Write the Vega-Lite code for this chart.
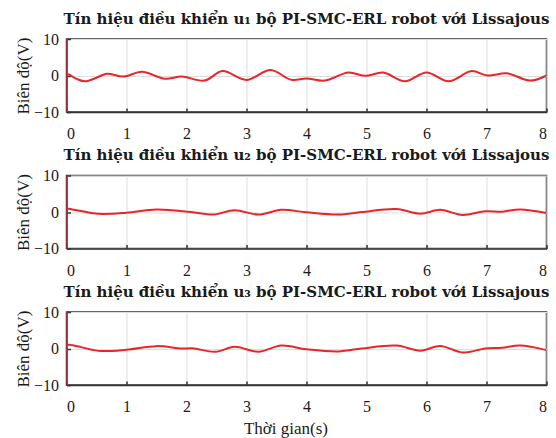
{
  "$schema": "https://vega.github.io/schema/vega-lite/v6.json",
  "background": "white",
  "padding": {"left": 13.5, "top": 10, "right": 2, "bottom": 2},
  "spacing": 3.5,
  "datasets": {
    "u1": [
      {"t": 0, "v": 10}, {"t": 0.004, "v": -10}, {"t": 0.012, "v": 0.3},
      {"t": 0.15, "v": -0.8}, {"t": 0.31, "v": -1.6}, {"t": 0.5, "v": -0.6},
      {"t": 0.67, "v": 0.5}, {"t": 0.95, "v": -0.3}, {"t": 1.26, "v": 1.0},
      {"t": 1.64, "v": -0.9}, {"t": 1.92, "v": -0.3}, {"t": 2.3, "v": -1.4},
      {"t": 2.6, "v": 1.2}, {"t": 3.0, "v": -1.2}, {"t": 3.4, "v": 1.5},
      {"t": 3.75, "v": -1.2}, {"t": 4.0, "v": -0.8}, {"t": 4.3, "v": -1.4},
      {"t": 4.7, "v": 0.8}, {"t": 4.98, "v": -0.1}, {"t": 5.28, "v": 0.8},
      {"t": 5.64, "v": -1.6}, {"t": 6.0, "v": 0.8}, {"t": 6.37, "v": -1.6},
      {"t": 6.75, "v": 1.2}, {"t": 7.02, "v": 0.0}, {"t": 7.34, "v": 0.6},
      {"t": 7.73, "v": -1.4}, {"t": 8.0, "v": 0.0}
    ],
    "u2": [
      {"t": 0, "v": 10}, {"t": 0.004, "v": -10}, {"t": 0.012, "v": 0.8},
      {"t": 0.1, "v": 0.7}, {"t": 0.53, "v": -0.5}, {"t": 1.0, "v": -0.2},
      {"t": 1.5, "v": 0.7}, {"t": 2.07, "v": 0.0}, {"t": 2.45, "v": -0.7},
      {"t": 2.8, "v": 0.5}, {"t": 3.2, "v": -0.7}, {"t": 3.58, "v": 0.6},
      {"t": 4.0, "v": -0.1}, {"t": 4.53, "v": -0.7}, {"t": 4.92, "v": 0.0},
      {"t": 5.5, "v": 0.8}, {"t": 5.9, "v": -0.45}, {"t": 6.23, "v": 0.6},
      {"t": 6.6, "v": -0.8}, {"t": 6.98, "v": 0.2}, {"t": 7.26, "v": 0.1},
      {"t": 7.56, "v": 0.7}, {"t": 8.0, "v": -0.3}
    ],
    "u3": [
      {"t": 0, "v": 10}, {"t": 0.004, "v": -10}, {"t": 0.012, "v": 0.9},
      {"t": 0.1, "v": 0.9}, {"t": 0.53, "v": -0.65}, {"t": 1.0, "v": -0.35},
      {"t": 1.5, "v": 0.65}, {"t": 1.92, "v": 0.0}, {"t": 2.1, "v": 0.05},
      {"t": 2.48, "v": -0.9}, {"t": 2.8, "v": 0.45}, {"t": 3.2, "v": -0.9},
      {"t": 3.58, "v": 0.8}, {"t": 4.0, "v": -0.2}, {"t": 4.53, "v": -0.8},
      {"t": 4.92, "v": 0.0}, {"t": 5.5, "v": 0.8}, {"t": 5.9, "v": -0.6},
      {"t": 6.23, "v": 0.7}, {"t": 6.6, "v": -1.1}, {"t": 6.98, "v": 0.0},
      {"t": 7.26, "v": 0.2}, {"t": 7.56, "v": 0.8}, {"t": 8.0, "v": -0.45}
    ]
  },
  "config": {
    "view": {"stroke": "#333333", "strokeWidth": 1.5},
    "title": {"font": "DejaVu Serif", "fontSize": 15, "fontWeight": "bold", "color": "#1a1a1a", "anchor": "middle", "offset": 4.5},
    "axis": {
      "labelFont": "Liberation Serif", "labelFontSize": 16, "labelColor": "#1a1a1a",
      "titleFont": "Liberation Serif", "titleFontSize": 17, "titleFontWeight": "normal", "titleColor": "#1a1a1a",
      "domainColor": "#333333", "domainWidth": 1.5,
      "tickColor": "#333333", "tickSize": -4, "tickWidth": 1.5,
      "gridColor": "#dddddd", "gridWidth": 1
    }
  },
  "vconcat": [
    {
      "width": 480, "height": 73,
      "title": "Tín hiệu điều khiển u₁ bộ PI-SMC-ERL robot với Lissajous",
      "data": {"name": "u1"},
      "mark": {"type": "line", "color": "#e8262a", "strokeWidth": 2, "interpolate": "catmull-rom", "clip": true},
      "encoding": {
        "x": {"field": "t", "type": "quantitative", "scale": {"domain": [0, 8], "nice": false},
              "axis": {"title": null, "values": [0,1,2,3,4,5,6,7,8], "labelPadding": 17.5}},
        "y": {"field": "v", "type": "quantitative", "scale": {"domain": [-10, 10], "nice": false},
              "axis": {"title": "Biên độ(V)", "values": [-10, 0, 10], "labelPadding": 12, "titlePadding": 0.5}}
      }
    },
    {
      "width": 480, "height": 73,
      "title": "Tín hiệu điều khiển u₂ bộ PI-SMC-ERL robot với Lissajous",
      "data": {"name": "u2"},
      "mark": {"type": "line", "color": "#e8262a", "strokeWidth": 2, "interpolate": "catmull-rom", "clip": true},
      "encoding": {
        "x": {"field": "t", "type": "quantitative", "scale": {"domain": [0, 8], "nice": false},
              "axis": {"title": null, "values": [0,1,2,3,4,5,6,7,8], "labelPadding": 17.5}},
        "y": {"field": "v", "type": "quantitative", "scale": {"domain": [-10, 10], "nice": false},
              "axis": {"title": "Biên độ(V)", "values": [-10, 0, 10], "labelPadding": 12, "titlePadding": 0.5}}
      }
    },
    {
      "width": 480, "height": 73,
      "title": "Tín hiệu điều khiển u₃ bộ PI-SMC-ERL robot với Lissajous",
      "data": {"name": "u3"},
      "mark": {"type": "line", "color": "#e8262a", "strokeWidth": 2, "interpolate": "catmull-rom", "clip": true},
      "encoding": {
        "x": {"field": "t", "type": "quantitative", "scale": {"domain": [0, 8], "nice": false},
              "axis": {"title": "Thời gian(s)", "values": [0,1,2,3,4,5,6,7,8], "labelPadding": 17.5, "titleX": 219, "titlePadding": 6}},
        "y": {"field": "v", "type": "quantitative", "scale": {"domain": [-10, 10], "nice": false},
              "axis": {"title": "Biên độ(V)", "values": [-10, 0, 10], "labelPadding": 12, "titlePadding": 0.5}}
      }
    }
  ]
}
